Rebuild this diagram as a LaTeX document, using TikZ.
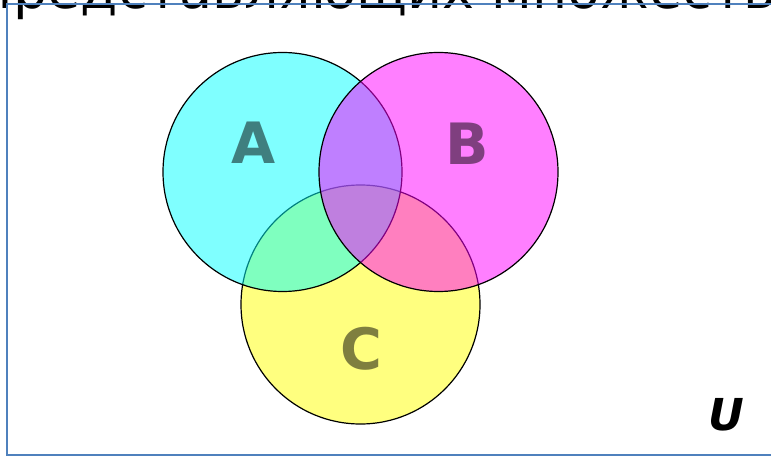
\documentclass[tikz,border=0pt]{standalone}
\usepackage{fontspec}
\setmainfont{DejaVu Sans}
\begin{document}
\begin{tikzpicture}[x=1pt,y=-1pt,
  setcircle/.style={draw=black, line width=1.2pt, fill opacity=0.5},
  setlabel/.style={font=\bfseries\fontsize{57}{57}\selectfont, text=black, text opacity=0.5, inner sep=0},
  frame/.style={draw={rgb,255:red,79;green,129;blue,189}, line width=2pt}]
\useasboundingbox (0,0) rectangle (771,457);
\clip (0,0) rectangle (771,457);
\fill[white] (0,0) rectangle (771,457);
\node[anchor=base west, inner sep=0, font=\fontsize{54}{54}\selectfont] (title) at (13,9) {\llap{п}редставляющих множеств};
\draw[frame] (7,4) rectangle (800,455);
\draw[setcircle, fill={rgb,255:red,255;green,255;blue,0}] (360.5,304.5) circle[radius=119.5pt];
\draw[setcircle, fill={rgb,255:red,0;green,255;blue,255}] (282.5,172) circle[radius=119.5pt];
\draw[setcircle, fill={rgb,255:red,255;green,0;blue,255}] (438.5,172) circle[radius=119.5pt];
\node[setlabel] (la) at (253.5,143) {A};
\node[setlabel] (lb) at (467,143.5) {B};
\node[setlabel] (lc) at (361,349) {C};
\node[font=\bfseries\itshape\fontsize{44}{44}\selectfont, inner sep=0] (u) at (726,415) {U};
\end{tikzpicture}
\end{document}
